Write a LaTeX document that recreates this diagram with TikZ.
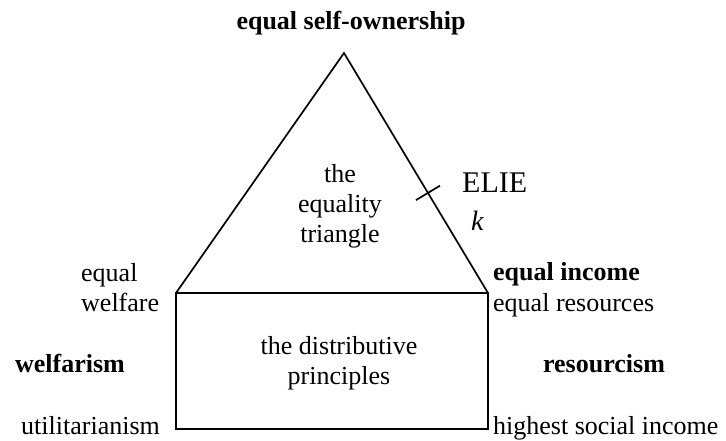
\documentclass[tikz,border=0pt]{standalone}
\usepackage{fontspec}
\setmainfont{Liberation Serif}
\usetikzlibrary{calc}
\begin{document}
\begin{tikzpicture}[x=1pt,y=-1pt,
  lbl/.style={inner sep=0pt, font=\fontsize{26}{30}\selectfont},
  bold/.style={inner sep=0pt, font=\fontsize{26}{30}\selectfont\bfseries},
  edge/.style={line width=1.7pt, line join=miter}]
\useasboundingbox (0,0) rectangle (726,441);
% corners of the triangle and of the box below it
\coordinate (apex) at (344,53);
\coordinate (bl) at (176,293);
\coordinate (br) at (488,293);
\coordinate (lr) at (488,429);
\draw[edge] (bl) -- (apex) -- (br);
\draw[edge] (bl) rectangle (lr);
% tick mark on the right side of the triangle
\coordinate (tk) at ($(apex)!0.583!(br)$);
\draw[edge] ($(tk)!14pt!90:(br)$) -- ($(tk)!14pt!-90:(br)$);
% labels (multi-line nodes are placed by the baseline of their last line)
\node[bold, anchor=base] (top) at (351,30) {equal self-ownership};
\node[lbl, align=center, anchor=base] (tri) at (340,242) {the\\equality\\triangle};
\node[inner sep=0pt, font=\fontsize{30}{32}\selectfont, anchor=base west] (elie) at (462,193) {ELIE};
\node[inner sep=0pt, font=\fontsize{28}{30}\selectfont\itshape, anchor=base west] (k) at (471,230) {k};
\node[lbl, align=left, anchor=base west] (ew) at (81,311) {equal\\welfare};
\node[bold, anchor=base west] (ei) at (493,280) {equal income};
\node[lbl, anchor=base west] (er) at (493,311) {equal resources};
\node[bold, anchor=base] (wf) at (70,372) {welfarism};
\node[bold, anchor=base] (rs) at (604,372) {resourcism};
\node[lbl, align=center, anchor=base] (dist) at (339,384) {the distributive\\principles};
\node[lbl, anchor=base west] (ut) at (21,434) {utilitarianism};
\node[lbl, anchor=base west] (hs) at (493,434) {highest social income};
\end{tikzpicture}
\end{document}
